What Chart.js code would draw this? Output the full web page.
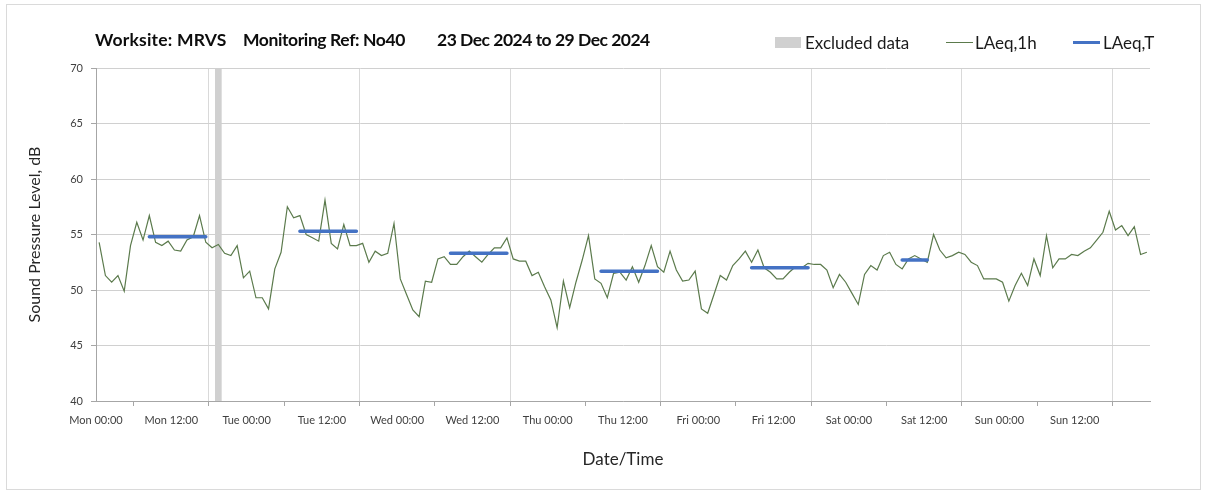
<!DOCTYPE html>
<html>
<head>
<meta charset="utf-8">
<title>Noise monitoring N040</title>
<script src="https://cdn.jsdelivr.net/npm/chart.js@4.4.1/dist/chart.umd.min.js"></script>
<style>
    html, body { margin: 0; padding: 0; background: #fff; }
    body { width: 1208px; height: 492px; position: relative; overflow: hidden; font-family: Lato, "Open Sans", sans-serif; }
    #frame { position: absolute; left: 6px; top: 4px; width: 1195px; height: 486px; border: 1px solid #dadada; box-sizing: border-box; }
    #chart { position: absolute; left: 0; top: 0; }
    .title { position: absolute; top: 29px; font-size: 17.5px; font-weight: bold; color: #0d0d0d; white-space: pre; }
    .legend { position: absolute; top: 32px; font-size: 17px; color: #1a1a1a; white-space: nowrap; }
    .swatch { position: absolute; }
</style>
</head>
<body>
<div id="frame"></div>
<canvas id="chart" width="1208" height="492"></canvas>
<div class="title" style="left:95px; letter-spacing:0.2px;">Worksite: MRVS</div>
<div class="title" style="left:243px; letter-spacing:-0.4px;">Monitoring Ref: No40</div>
<div class="title" style="left:437px; letter-spacing:-0.5px;">23 Dec 2024 to 29 Dec 2024</div>
<div class="swatch" style="left:775px; top:37px; width:26px; height:11px; background:#d0d0d0;"></div>
<div class="legend" style="left:805px;">Excluded data</div>
<div class="swatch" style="left:946px; top:42px; width:27px; height:1px; background:#5b7a4c;"></div>
<div class="legend" style="left:975px;">LAeq,1h</div>
<div class="swatch" style="left:1073px; top:41px; width:27px; height:3px; background:#4472c4;"></div>
<div class="legend" style="left:1103px;">LAeq,T</div>

<script>
// Week 23 Dec 2024 - 29 Dec 2024, hourly levels starting Mon 00:00

const tickLabels = ['Mon 00:00', 'Mon 12:00', 'Tue 00:00', 'Tue 12:00', 'Wed 00:00', 'Wed 12:00',
    'Thu 00:00', 'Thu 12:00', 'Fri 00:00', 'Fri 12:00', 'Sat 00:00', 'Sat 12:00', 'Sun 00:00', 'Sun 12:00', ''];

// LAeq,1h - one value per hour (168 hours)
const laeq1h = [
    // Mon
    54.3, 51.3, 50.7, 51.3, 49.9, 54.0, 56.1, 54.5, 56.7, 54.3, 54.0, 54.4,
    53.6, 53.5, 54.5, 54.8, 56.7, 54.3, 53.8, 54.1, 53.3, 53.1, 54.0, 51.1,
    // Tue
    51.7, 49.3, 49.3, 48.3, 51.9, 53.4, 57.5, 56.5, 56.7, 55.0, 54.7, 54.4,
    58.1, 54.2, 53.7, 55.9, 54.0, 54.0, 54.2, 52.5, 53.5, 53.1, 53.3, 56.0,
    // Wed
    51.0, 49.6, 48.2, 47.6, 50.8, 50.7, 52.8, 53.0, 52.3, 52.3, 53.0, 53.5,
    53.0, 52.5, 53.2, 53.8, 53.8, 54.7, 52.8, 52.6, 52.6, 51.3, 51.6, 50.3,
    // Thu
    49.1, 46.6, 50.8, 48.4, 50.7, 52.7, 54.9, 51.0, 50.6, 49.3, 51.5, 51.6,
    50.9, 52.1, 50.7, 52.2, 54.0, 52.1, 51.6, 53.5, 51.8, 50.8, 50.9, 51.7,
    // Fri
    48.3, 47.9, 49.6, 51.3, 50.9, 52.2, 52.8, 53.5, 52.5, 53.6, 52.0, 51.6,
    51.0, 51.0, 51.6, 52.1, 52.0, 52.4, 52.3, 52.3, 51.8, 50.2, 51.4, 50.7,
    // Sat
    49.7, 48.7, 51.4, 52.2, 51.8, 53.1, 53.4, 52.3, 51.9, 52.8, 53.1, 52.8,
    52.5, 55.0, 53.6, 52.9, 53.1, 53.4, 53.2, 52.5, 52.2, 51.0, 51.0, 51.0,
    // Sun
    50.7, 49.0, 50.4, 51.5, 50.4, 52.8, 51.3, 54.9, 52.0, 52.8, 52.8, 53.2,
    53.1, 53.5, 53.8, 54.5, 55.2, 57.1, 55.4, 55.8, 54.9, 55.7, 53.2, 53.4
];

// LAeq,T - period averages (first hour, last hour, level)
const periodStart = [8, 32, 56, 80, 104, 128];
const periodEnd = [17, 41, 65, 89, 113, 132];
const periodLevel = [54.8, 55.3, 53.3, 51.7, 52.0, 52.7];

// Excluded hours
const excludedHours = [19];

const yMin = 40;
const yMax = 70;

// Build datasets (points sit in the middle of each hour)
const hourlyPoints = laeq1h.map((v, i) => ({ x: i + 0.5, y: v }));

const periodPoints = [];
periodStart.forEach((s, i) => {
    periodPoints.push({ x: s + 0.5, y: periodLevel[i] });
    periodPoints.push({ x: periodEnd[i] + 0.5, y: periodLevel[i] });
    periodPoints.push({ x: periodEnd[i] + 0.6, y: null });
});

const excludedBars = excludedHours.map(h => ({ x: h + 0.5, y: [yMin, yMax] }));

const tickFont = { family: 'Lato, "Open Sans", sans-serif', size: 11 };
const titleFont = { family: 'Lato, "Open Sans", sans-serif', size: 17 };

const chart = new Chart(document.getElementById('chart'), {
    data: {
        datasets: [
            {
                type: 'line',
                label: 'LAeq,T',
                data: periodPoints,
                borderColor: '#4472c4',
                borderWidth: 3.5,
                borderCapStyle: 'round',
                pointRadius: 0,
                spanGaps: false,
                order: 1
            },
            {
                type: 'line',
                label: 'LAeq,1h',
                data: hourlyPoints,
                borderColor: '#5b7a4c',
                borderWidth: 1.2,
                pointRadius: 0,
                tension: 0,
                order: 2
            },
            {
                type: 'bar',
                label: 'Excluded data',
                data: excludedBars,
                backgroundColor: '#d0d0d0',
                barThickness: 6,
                order: 3
            }
        ]
    },
    options: {
        responsive: false,
        animation: false,
        layout: {
            padding: { left: 0, top: 68, right: 58, bottom: 21 }
        },
        plugins: {
            legend: { display: false },
            tooltip: { enabled: false }
        },
        scales: {
            x: {
                type: 'linear',
                min: 0,
                max: 168,
                offset: false,
                afterFit: scale => { scale.height = 70; },
                ticks: {
                    stepSize: 12,
                    autoSkip: false,
                    maxRotation: 0,
                    color: '#404040',
                    font: tickFont,
                    padding: 8,
                    callback: v => tickLabels[v / 12]
                },
                grid: {
                    color: ctx => (ctx.tick && ctx.tick.value % 24 === 0) ? '#d9d9d9' : 'rgba(0,0,0,0)',
                    tickColor: '#a6a6a6',
                    tickLength: 5
                },
                border: { color: '#a6a6a6' },
                title: {
                    display: true,
                    text: 'Date/Time',
                    color: '#262626',
                    font: titleFont,
                    padding: { top: 0, bottom: 1 }
                }
            },
            y: {
                min: yMin,
                max: yMax,
                afterFit: scale => { scale.width = 96; },
                ticks: {
                    stepSize: 5,
                    color: '#404040',
                    font: tickFont,
                    padding: 8
                },
                grid: {
                    color: '#d0d0d0',
                    tickColor: '#a6a6a6',
                    tickLength: 5
                },
                border: { color: '#a6a6a6' },
                title: {
                    display: true,
                    text: 'Sound Pressure Level, dB',
                    color: '#262626',
                    font: { family: 'Lato, "Open Sans", sans-serif', size: 16 },
                    padding: { top: 25, bottom: 0 }
                }
            }
        }
    }
});
</script>
</body>
</html>
